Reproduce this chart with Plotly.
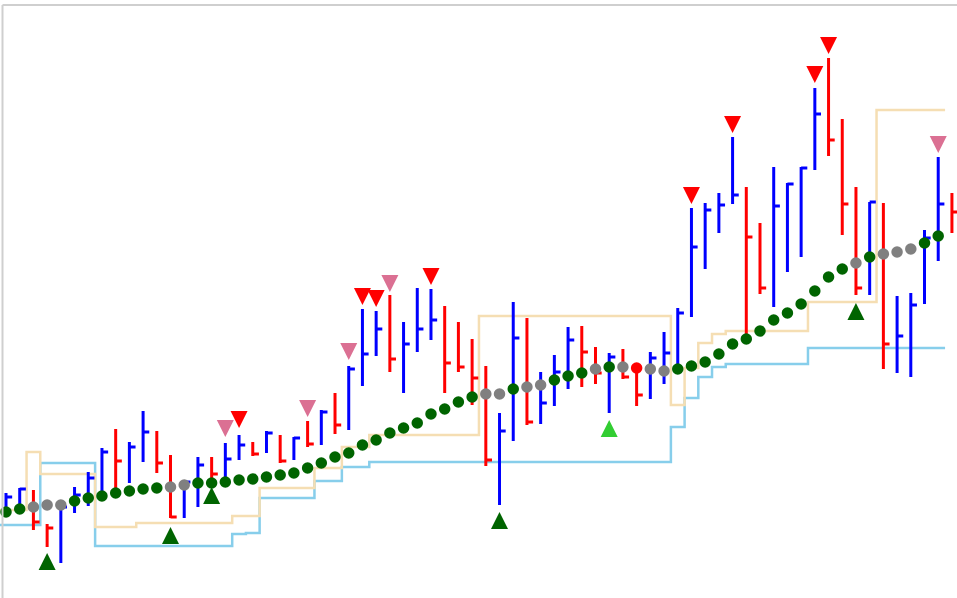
import plotly.graph_objects as go

# ---- bar data (one bar per session) ----
HIGH = [107, 112, 110, 76, 94, 113, 128, 152, 171, 158,
        189, 169, 145, 120, 143, 143, 157, 165, 158, 169,
        165, 163, 179, 190, 207, 234, 291, 289, 305, 278,
        312, 311, 294, 278, 261, 234, 187, 298, 282, 228,
        245, 273, 274, 253, 247, 251, 237, 248, 268, 292,
        392, 397, 407, 463, 413, 377, 433, 417, 433, 512,
        542, 481, 413, 398, 397, 304, 307, 370, 443, 407]
LOW = [83, 90, 70, 53, 37, 87, 94, 105, 110, 117,
       138, 127, 82, 82, 93, 120, 120, 140, 144, 147,
       137, 140, 153, 155, 166, 170, 214, 244, 228, 207,
       248, 260, 207, 228, 195, 134, 95, 159, 175, 176,
       194, 211, 213, 216, 187, 221, 194, 201, 216, 235,
       283, 331, 367, 396, 265, 306, 293, 328, 343, 430,
       444, 365, 305, 305, 231, 227, 223, 296, 339, 367]
CLOSE = [103, 111, 78, 72, 93, 105, 122, 148, 139, 153,
         168, 137, 83, 118, 135, 126, 141, 155, 146, 167,
         139, 162, 156, 188, 175, 231, 246, 271, 241, 256,
         271, 280, 237, 233, 222, 140, 169, 262, 178, 197,
         228, 260, 248, 227, 243, 223, 205, 242, 247, 287,
         353, 390, 395, 405, 363, 312, 394, 416, 432, 486,
         460, 396, 312, 398, 256, 264, 295, 362, 396, 388]

# ---- moving average and its trend state ----
MA = [88, 91, 93, 95, 95, 99, 102, 104, 107, 109,
      111, 112, 113, 115, 117, 117, 118, 120, 121, 123,
      125, 127, 132, 137, 143, 147, 155, 160, 167, 172,
      177, 186, 191, 198, 203, 206, 206, 211, 213, 215,
      220, 224, 227, 231, 233, 233, 232, 231, 229, 231,
      234, 238, 246, 256, 261, 269, 280, 287, 296, 309,
      323, 331, 337, 343, 346, 348, 351, 357, 364, None]
MA_TREND = ["up", "up", "flat", "flat", "flat", "up", "up", "up", "up", "up",
            "up", "up", "flat", "flat", "up", "up", "up", "up", "up", "up",
            "up", "up", "up", "up", "up", "up", "up", "up", "up", "up",
            "up", "up", "up", "up", "up", "flat", "flat", "up", "flat", "flat",
            "up", "up", "up", "flat", "up", "flat", "down", "flat", "flat", "up",
            "up", "up", "up", "up", "up", "up", "up", "up", "up", "up",
            "up", "up", "flat", "up", "flat", "flat", "flat", "up", "up", "up"]

# ---- step channels ----
UPPER = [90, 90, 148, 126, 126, 126, 126, 73, 73, 73,
         77, 77, 77, 77, 77, 77, 77, 84, 84, 112,
         112, 112, 112, 132, 132, 153, 153, 165, 165, 165,
         165, 165, 165, 165, 165, 284, 284, 284, 284, 284,
         284, 284, 284, 284, 284, 284, 284, 284, 284, 195,
         232, 257, 266, 269, 269, 269, 269, 269, 269, 298,
         298, 298, 298, 298, 490, 490, 490, 490, 490, 490]
LOWER = [75, 75, 75, 137, 137, 137, 137, 54, 54, 54,
         54, 54, 54, 54, 54, 54, 54, 66, 67, 102,
         102, 102, 102, 119, 119, 133, 133, 138, 138, 138,
         138, 138, 138, 138, 138, 138, 138, 138, 138, 138,
         138, 138, 138, 138, 138, 138, 138, 138, 138, 173,
         202, 223, 233, 236, 236, 236, 236, 236, 236, 252,
         252, 252, 252, 252, 252, 252, 252, 252, 252, 252]

# ---- signals (bar index, price of the marker tip) ----
BUY_IDX = [3, 12, 15, 36, 62]
BUY_PRICE = [47, 73, 113, 88, 297]
BUY_WEAK_IDX = [44]
BUY_WEAK_PRICE = [180]
SELL_IDX = [17, 26, 27, 31, 50, 53, 59, 60]
SELL_PRICE = [172, 295, 293, 315, 396, 467, 517, 546]
SELL_WEAK_IDX = [16, 22, 25, 28, 68]
SELL_WEAK_PRICE = [163, 183, 240, 308, 447]

N = len(CLOSE)
X = list(range(N))
TICK = 0.45

UP_COLOR = "#0000ff"
DOWN_COLOR = "#ff0000"
TREND_COLORS = {"up": "#006400", "flat": "#808080", "down": "#ff0000"}

fig = go.Figure()

# step lines
fig.add_trace(go.Scatter(x=[i - 0.5 for i in X], y=LOWER, mode="lines",
                         line=dict(color="#87ceeb", width=2.5, shape="hv"),
                         hoverinfo="skip", showlegend=False))
fig.add_trace(go.Scatter(x=[i - 0.5 for i in X], y=UPPER, mode="lines",
                         line=dict(color="#f5deb3", width=2.5, shape="hv"),
                         hoverinfo="skip", showlegend=False))

# HLC bars
seg = {UP_COLOR: ([], []), DOWN_COLOR: ([], [])}
for i in X:
    up = i == 0 or CLOSE[i] >= CLOSE[i - 1]
    xs, ys = seg[UP_COLOR if up else DOWN_COLOR]
    xs += [i, i, None, i, i + TICK, None]
    ys += [LOW[i], HIGH[i], None, CLOSE[i], CLOSE[i], None]
for col, (xs, ys) in seg.items():
    fig.add_trace(go.Scatter(x=xs, y=ys, mode="lines",
                             line=dict(color=col, width=3),
                             hoverinfo="skip", showlegend=False))

# moving average dots
fig.add_trace(go.Scatter(x=X, y=MA, mode="markers",
                         marker=dict(size=11.5, color=[TREND_COLORS[t] for t in MA_TREND],
                                     line=dict(width=0)),
                         showlegend=False))

# signals
def add_sig(idx, price, symbol, color):
    fig.add_trace(go.Scatter(x=idx, y=price, mode="markers",
                             marker=dict(symbol=symbol, size=17, color=color,
                                         line=dict(width=0)),
                             showlegend=False))

add_sig(BUY_IDX, BUY_PRICE, "arrow-up", "#006400")
add_sig(BUY_WEAK_IDX, BUY_WEAK_PRICE, "arrow-up", "#32cd32")
add_sig(SELL_IDX, SELL_PRICE, "arrow-down", "#ff0000")
add_sig(SELL_WEAK_IDX, SELL_WEAK_PRICE, "arrow-down", "#db7093")

W, H = 957, 598
fig.update_layout(
    width=W, height=H,
    margin=dict(l=0, r=0, t=0, b=0),
    paper_bgcolor="white", plot_bgcolor="white",
    xaxis=dict(range=[-0.4376, 69.37], visible=False, fixedrange=True),
    yaxis=dict(range=[2, 600], visible=False, fixedrange=True),
    shapes=[
        dict(type="line", xref="paper", yref="paper",
             x0=2.5 / W, x1=2.5 / W, y0=0, y1=1 - 5 / H,
             line=dict(color="#cfcfcf", width=2)),
        dict(type="line", xref="paper", yref="paper",
             x0=2.5 / W, x1=1, y0=1 - 5 / H, y1=1 - 5 / H,
             line=dict(color="#cfcfcf", width=2)),
    ],
)

fig.write_html("out.html", config={"displayModeBar": False},
               post_script="document.body.style.margin='0';")
